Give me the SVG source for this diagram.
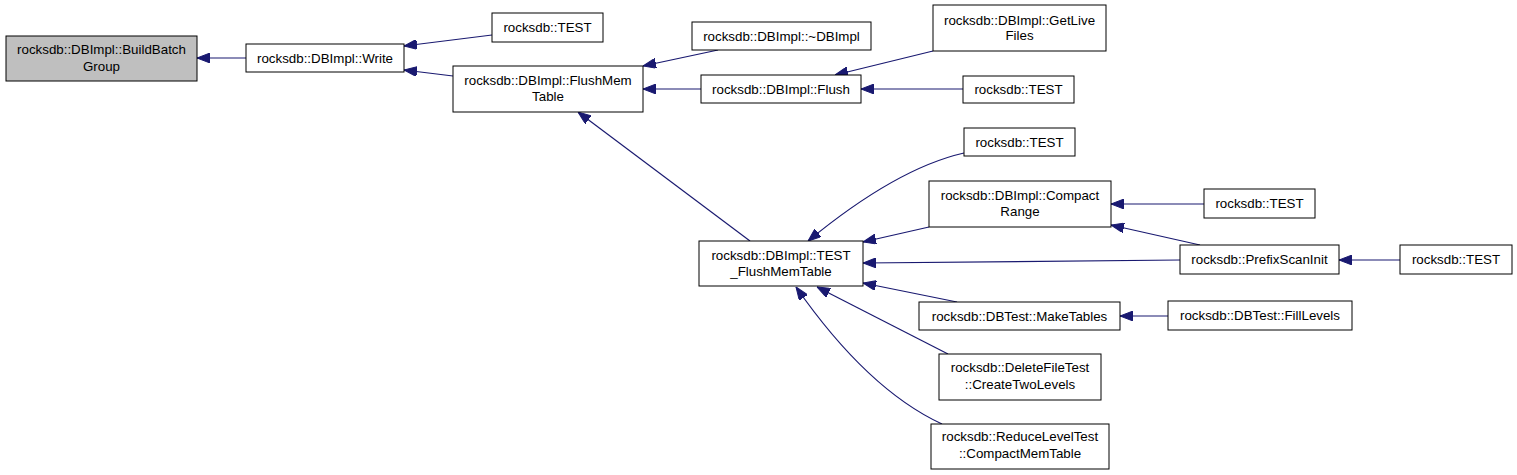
<svg xmlns="http://www.w3.org/2000/svg" width="1517" height="475" viewBox="0 0 1517 475">
<style>
.n rect{fill:#ffffff;stroke:#000000;stroke-width:1}
.n.hl rect{fill:#bfbfbf}
.n text{font-family:"Liberation Sans",Arial,sans-serif;font-size:13.33px;fill:#000000;text-anchor:middle}
.e path{fill:none;stroke:#191970;stroke-width:1.2}
</style>
<defs>
<marker id="ah" viewBox="0 0 13 10" refX="13" refY="5" markerWidth="13" markerHeight="10" markerUnits="userSpaceOnUse" orient="auto">
<path d="M0,0 L13,5 L0,10 z" fill="#191970" stroke="#191970" stroke-width="1"/>
</marker>
</defs>
<rect width="1517" height="475" fill="#ffffff"/>
<g id="edges" class="e">
<path d="M246,58 L197,58" marker-end="url(#ah)"/>
<path d="M492,35 L404,46" marker-end="url(#ah)"/>
<path d="M453,76 L404,70" marker-end="url(#ah)"/>
<path d="M718,50 L643,66" marker-end="url(#ah)"/>
<path d="M701,89 L643,89" marker-end="url(#ah)"/>
<path d="M933,51 L835,75" marker-end="url(#ah)"/>
<path d="M963,89 L861,89" marker-end="url(#ah)"/>
<path d="M750,241 L578,112" marker-end="url(#ah)"/>
<path d="M964,153 C920,163 870,190 808,241" marker-end="url(#ah)"/>
<path d="M929,227 L863,242" marker-end="url(#ah)"/>
<path d="M1180,260 L863,263" marker-end="url(#ah)"/>
<path d="M957,302 L863,283" marker-end="url(#ah)"/>
<path d="M948,354 L817,287" marker-end="url(#ah)"/>
<path d="M942,424 C890,400 840,350 796,287" marker-end="url(#ah)"/>
<path d="M1204,204 L1111,204" marker-end="url(#ah)"/>
<path d="M1200,245 L1111,225" marker-end="url(#ah)"/>
<path d="M1400,260 L1339,260" marker-end="url(#ah)"/>
<path d="M1168,316 L1120,316" marker-end="url(#ah)"/>
</g>
<g id="n0" class="n hl"><rect x="6" y="36" width="191" height="45"/><text x="101.5" y="54">rocksdb::DBImpl::BuildBatch</text><text x="101.5" y="71">Group</text></g>
<g id="n1" class="n"><rect x="246" y="44" width="158" height="28"/><text x="325" y="63">rocksdb::DBImpl::Write</text></g>
<g id="n2" class="n"><rect x="492" y="13" width="111" height="29"/><text x="547.5" y="32">rocksdb::TEST</text></g>
<g id="n3" class="n"><rect x="453" y="66" width="190" height="46"/><text x="548" y="85">rocksdb::DBImpl::FlushMem</text><text x="548" y="101">Table</text></g>
<g id="n4" class="n"><rect x="692" y="22" width="179" height="28"/><text x="781.5" y="41">rocksdb::DBImpl::~DBImpl</text></g>
<g id="n5" class="n"><rect x="701" y="75" width="160" height="28"/><text x="781" y="94">rocksdb::DBImpl::Flush</text></g>
<g id="n6" class="n"><rect x="933" y="5" width="173" height="46"/><text x="1019.5" y="25">rocksdb::DBImpl::GetLive</text><text x="1019.5" y="40">Files</text></g>
<g id="n7" class="n"><rect x="963" y="76" width="111" height="27"/><text x="1018.5" y="94">rocksdb::TEST</text></g>
<g id="n8" class="n"><rect x="699" y="241" width="164" height="45"/><text x="781" y="260">rocksdb::DBImpl::TEST</text><text x="781" y="276">_FlushMemTable</text></g>
<g id="n9" class="n"><rect x="964" y="128" width="111" height="28"/><text x="1019.5" y="147">rocksdb::TEST</text></g>
<g id="n10" class="n"><rect x="929" y="181" width="182" height="46"/><text x="1020" y="200">rocksdb::DBImpl::Compact</text><text x="1020" y="216">Range</text></g>
<g id="n11" class="n"><rect x="1204" y="189" width="111" height="29"/><text x="1259.5" y="208">rocksdb::TEST</text></g>
<g id="n12" class="n"><rect x="1180" y="245" width="159" height="29"/><text x="1259.5" y="264">rocksdb::PrefixScanInit</text></g>
<g id="n13" class="n"><rect x="1400" y="245" width="112" height="29"/><text x="1456" y="264">rocksdb::TEST</text></g>
<g id="n14" class="n"><rect x="919" y="302" width="201" height="28"/><text x="1019.5" y="321">rocksdb::DBTest::MakeTables</text></g>
<g id="n15" class="n"><rect x="1168" y="301" width="184" height="29"/><text x="1260" y="320">rocksdb::DBTest::FillLevels</text></g>
<g id="n16" class="n"><rect x="939" y="354" width="162" height="46"/><text x="1020" y="372">rocksdb::DeleteFileTest</text><text x="1020" y="389">::CreateTwoLevels</text></g>
<g id="n17" class="n"><rect x="931" y="424" width="178" height="45"/><text x="1020" y="441">rocksdb::ReduceLevelTest</text><text x="1020" y="458">::CompactMemTable</text></g>
</svg>
